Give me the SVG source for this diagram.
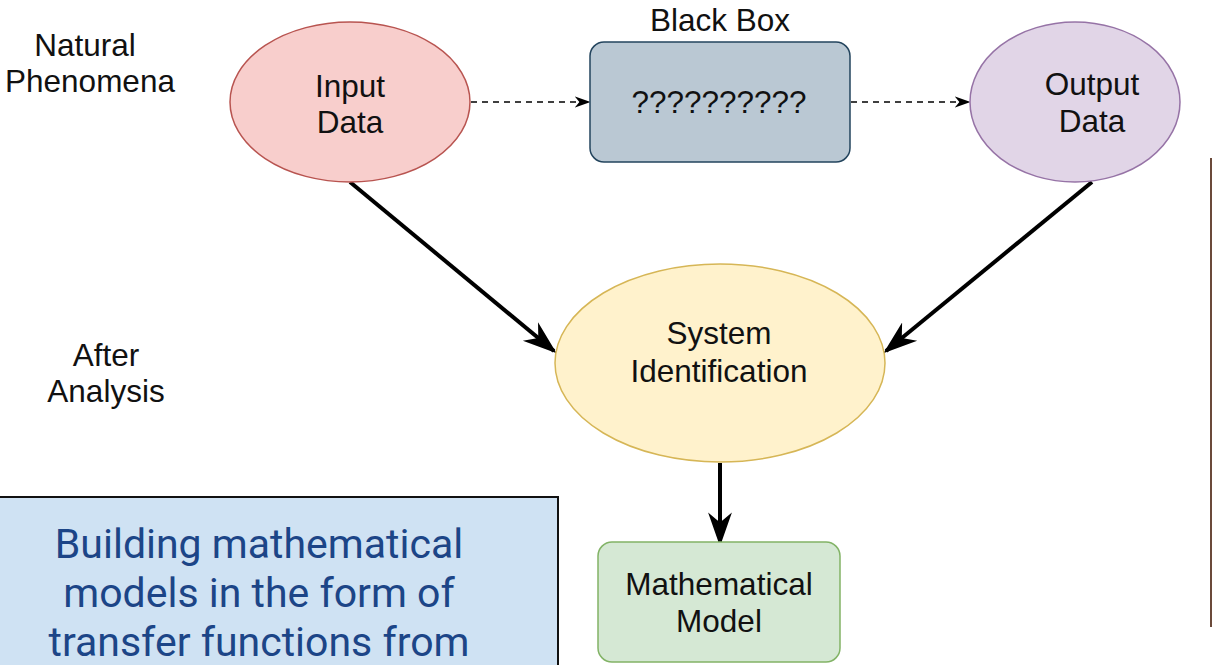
<svg xmlns="http://www.w3.org/2000/svg" width="1212" height="665" viewBox="0 0 1212 665">
  <style>
    .lbl { font-family: "Liberation Sans", Arial, sans-serif; font-size: 31.5px; fill: #111; text-anchor: middle; }
    .edge { stroke: #000; stroke-width: 4; fill: none; }
    .dash { stroke: #000; stroke-width: 1.5; stroke-dasharray: 6 5; fill: none; }
    .note { font-family: Roboto, "Liberation Sans", sans-serif; font-size: 41px; fill: #1c4587; text-anchor: middle; }
  </style>
  <defs>
    <marker id="head" viewBox="0 0 10 10" refX="9" refY="5" markerWidth="16" markerHeight="16" orient="auto" markerUnits="userSpaceOnUse">
      <path d="M0,1.5 L10,5 L0,8.5 L3,5 z" fill="#000"/>
    </marker>
    <marker id="fat" viewBox="0 0 10 10" refX="9" refY="5" markerWidth="34" markerHeight="34" orient="auto" markerUnits="userSpaceOnUse">
      <path d="M0,1.5 L10,5 L0,8.5 L3,5 z" fill="#000"/>
    </marker>
  </defs>
  <rect width="1212" height="665" fill="#fff"/>

  <!-- side captions -->
  <g id="caption-natural">
    <text class="lbl" x="85" y="56">Natural</text>
    <text class="lbl" x="90" y="92">Phenomena</text>
  </g>
  <g id="caption-after">
    <text class="lbl" x="106" y="366">After</text>
    <text class="lbl" x="106" y="402">Analysis</text>
  </g>

  <!-- connectors -->
  <g id="connectors">
    <line class="dash" x1="471" y1="102" x2="589" y2="102" marker-end="url(#head)"/>
    <line class="dash" x1="851" y1="102" x2="969" y2="102" marker-end="url(#head)"/>
    <line class="edge" x1="350" y1="182" x2="554" y2="351" marker-end="url(#fat)"/>
    <line class="edge" x1="1092" y1="182" x2="886" y2="351" marker-end="url(#fat)"/>
    <line class="edge" x1="720" y1="463" x2="720" y2="543" marker-end="url(#fat)"/>
  </g>

  <g id="input-data">
    <ellipse cx="350" cy="102" rx="120" ry="80" fill="#f8cecc" stroke="#b85450" stroke-width="1.5"/>
    <text class="lbl" x="350" y="97">Input</text>
    <text class="lbl" x="350" y="133">Data</text>
  </g>

  <g id="black-box">
    <text class="lbl" x="720" y="31">Black Box</text>
    <rect x="590" y="42" width="260" height="120" rx="14" fill="#bac8d3" stroke="#23445d" stroke-width="1.5"/>
    <text class="lbl" x="719" y="113">??????????</text>
  </g>

  <g id="output-data">
    <ellipse cx="1075" cy="102" rx="105" ry="80" fill="#e1d5e7" stroke="#9673a6" stroke-width="1.5"/>
    <text class="lbl" x="1092" y="95">Output</text>
    <text class="lbl" x="1092" y="132">Data</text>
  </g>

  <g id="system-identification">
    <ellipse cx="720" cy="363" rx="165" ry="99" fill="#fff2cc" stroke="#d6b656" stroke-width="1.5"/>
    <text class="lbl" x="719" y="344">System</text>
    <text class="lbl" x="719" y="382">Identification</text>
  </g>

  <g id="mathematical-model">
    <rect x="598" y="542" width="242" height="120" rx="14" fill="#d5e8d4" stroke="#82b366" stroke-width="1.5"/>
    <text class="lbl" x="719" y="595">Mathematical</text>
    <text class="lbl" x="719" y="632">Model</text>
  </g>

  <!-- note panel -->
  <g id="note">
    <rect x="-2" y="497" width="560" height="180" fill="#cfe2f3" stroke="#111" stroke-width="2"/>
    <text class="note" x="259" y="558">Building mathematical</text>
    <text class="note" x="259" y="607">models in the form of</text>
    <text class="note" x="259" y="656">transfer functions from</text>
  </g>

  <!-- right edge rule -->
  <line x1="1211" y1="158" x2="1211" y2="627" stroke="#6b4a3a" stroke-width="2"/>
</svg>
